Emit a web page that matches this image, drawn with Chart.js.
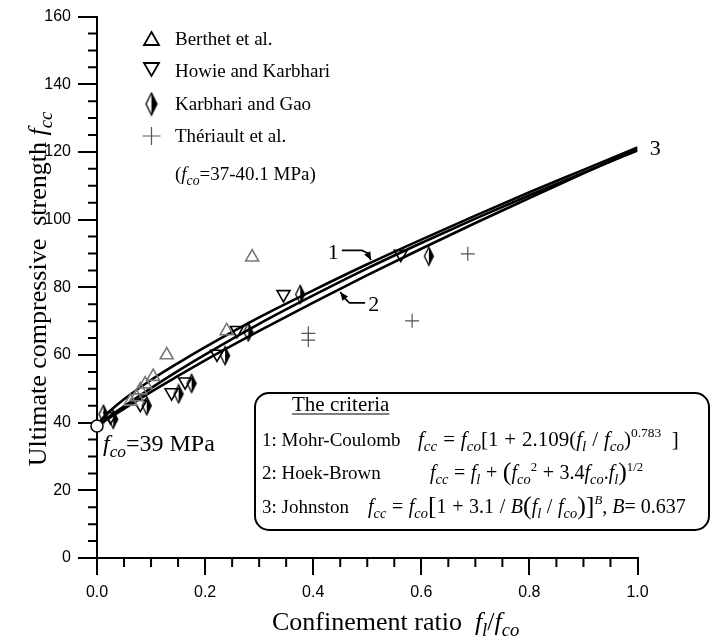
<!DOCTYPE html>
<html>
<head>
<meta charset="utf-8">
<script src="https://cdn.jsdelivr.net/npm/chart.js@4.4.1/dist/chart.umd.min.js"></script>
<style>
  html, body { margin: 0; padding: 0; background: #fff; }
</style>
</head>
<body>
<canvas id="grafico" width="711" height="640"></canvas>
<script>
/* Confined concrete strength vs confinement ratio: tests + 3 criteria */

// criteria curves
const curvaX   = [0, 0.01, 0.025, 0.05, 0.1, 0.15, 0.2, 0.3, 0.4, 0.5, 0.6, 0.7, 0.8, 0.9, 1.0];
const mohrY    = [39, 41.2, 43.6, 46.9, 52.6, 57.6, 62.3, 71.1, 79.1, 86.8, 94.1, 101.2, 108.1, 114.7, 121.3];
const hoekY    = [39, 40.1, 41.6, 44.1, 49.1, 53.8, 58.4, 67.1, 75.5, 83.6, 91.4, 99.0, 106.4, 113.7, 120.8];
const johnY    = [39, 40.2, 42.0, 44.8, 50.2, 55.3, 60.1, 69.2, 77.6, 85.6, 93.1, 100.3, 107.2, 113.9, 120.4];

// test data
const berthetX   = [0.287, 0.129, 0.240, 0.104, 0.089, 0.080, 0.073, 0.062];
const berthetY   = [88.9, 60.0, 67.1, 53.6, 51.4, 49.6, 47.6, 46.3];
const howieX     = [0.025, 0.080, 0.138, 0.163, 0.222, 0.259, 0.345, 0.562];
const howieY     = [41.8, 45.5, 48.9, 52.1, 60.3, 67.3, 77.9, 89.8];
const karbhariX  = [0.012, 0.030, 0.092, 0.151, 0.175, 0.237, 0.280, 0.376, 0.614];
const karbhariY  = [42.5, 41.0, 45.0, 48.5, 51.6, 59.8, 66.8, 77.9, 89.2];
const theriaultX = [0.391, 0.391, 0.583, 0.686];
const theriaultY = [66.4, 64.4, 70.1, 89.9];
const origemX = [0];
const origemY = [39];

// axes
const xMin = 0, xMax = 1, xPasso = 0.2, xPassoMenor = 0.05;
const yMin = 0, yMax = 160, yPasso = 20, yPassoMenor = 5;

const SERIF = '"Liberation Serif", "Times New Roman", serif';
const pts = (xs, ys) => xs.map((x, i) => ({ x, y: ys[i] }));

// meio losango (metade direita preenchida)
function meioLosango(w, h) {
  const c = document.createElement('canvas');
  c.width = w + 3; c.height = h + 3;
  const g = c.getContext('2d');
  const cx = c.width / 2, cy = c.height / 2;
  g.beginPath(); g.moveTo(cx, 1.5); g.lineTo(w + 1.5, cy); g.lineTo(cx, h + 1.5); g.closePath();
  g.fillStyle = '#000'; g.fill();
  g.beginPath(); g.moveTo(cx, 1.5); g.lineTo(w + 1.5, cy); g.lineTo(cx, h + 1.5); g.lineTo(1.5, cy); g.closePath();
  g.lineWidth = 1.3; g.strokeStyle = '#000'; g.stroke();
  return c;
}
const losango = meioLosango(9, 18);
const losangoLeg = meioLosango(11, 22);

// texto com itálico / índices; 'op' = operador com espaço largo
function rich(ctx, x, y, partes, size, medir) {
  let w = 0;
  partes.forEach(([t, s]) => {
    let f = size, dy = 0, it = false, pad = 0;
    if (s === 'i') it = true;
    if (s === 'sub') { f = size * 0.72; dy = size * 0.24; it = true; }
    if (s === 'sup') { f = size * 0.64; dy = -size * 0.42; }
    if (s === 'isup') { f = size * 0.64; dy = -size * 0.45; it = true; }
    if (s === 'big') { f = size * 1.3; dy = size * 0.06; }
    if (s === 'op') pad = size * 0.28;
    ctx.font = (it ? 'italic ' : '') + f + 'px ' + SERIF;
    w += pad;
    if (!medir) ctx.fillText(t, x + w, y + dy);
    w += ctx.measureText(t).width + pad;
  });
  return w;
}

function seta(ctx, pts_, tip) {
  ctx.beginPath();
  ctx.moveTo(pts_[0][0], pts_[0][1]);
  for (let i = 1; i < pts_.length; i++) ctx.lineTo(pts_[i][0], pts_[i][1]);
  ctx.lineTo(tip[0], tip[1]);
  ctx.stroke();
  const [px, py] = pts_[pts_.length - 1];
  const ang = Math.atan2(tip[1] - py, tip[0] - px);
  ctx.beginPath();
  ctx.moveTo(tip[0], tip[1]);
  ctx.lineTo(tip[0] - 9 * Math.cos(ang - 0.4), tip[1] - 9 * Math.sin(ang - 0.4));
  ctx.lineTo(tip[0] - 9 * Math.cos(ang + 0.4), tip[1] - 9 * Math.sin(ang + 0.4));
  ctx.closePath(); ctx.fill();
}

const extras = {
  id: 'extras',
  afterDraw(chart) {
    const ctx = chart.ctx, a = chart.chartArea;
    const xs = chart.scales.x, ys = chart.scales.y;
    const X = v => xs.getPixelForValue(v), Y = v => ys.getPixelForValue(v);
    ctx.save();
    ctx.strokeStyle = '#000'; ctx.fillStyle = '#000'; ctx.lineWidth = 2;

    // ticks menores
    ctx.beginPath();
    for (let v = xMin; v <= xMax + 1e-9; v += xPassoMenor) {
      if (Math.abs(v / xPasso - Math.round(v / xPasso)) < 1e-6) continue;
      ctx.moveTo(X(v), a.bottom); ctx.lineTo(X(v), a.bottom + 9);
    }
    for (let v = yMin; v <= yMax; v += yPassoMenor) {
      if (v % yPasso === 0) continue;
      ctx.moveTo(a.left, Y(v)); ctx.lineTo(a.left - 9, Y(v));
    }
    ctx.stroke();

    // títulos dos eixos
    ctx.textBaseline = 'alphabetic';
    const tx = [['Confinement ratio  ', 'n'], ['f', 'i'], ['l', 'sub'], ['/', 'n'], ['f', 'i'], ['co', 'sub']];
    rich(ctx, 272, 630, tx, 26);
    const ty = [['Ultimate compressive  strength ', 'n'], ['f', 'i'], ['cc', 'sub']];
    const wy = rich(ctx, 0, 0, ty, 26, true);
    ctx.save(); ctx.translate(46, 289); ctx.rotate(-Math.PI / 2);
    rich(ctx, -wy / 2, 0, ty, 26);
    ctx.restore();

    // legenda
    ctx.lineWidth = 1.8;
    const lx = 151.5;
    ctx.beginPath(); ctx.moveTo(lx, 32); ctx.lineTo(lx + 7.5, 45); ctx.lineTo(lx - 7.5, 45); ctx.closePath(); ctx.stroke();
    ctx.beginPath(); ctx.moveTo(lx - 7.5, 63); ctx.lineTo(lx + 7.5, 63); ctx.lineTo(lx, 76); ctx.closePath(); ctx.stroke();
    ctx.drawImage(losangoLeg, lx - losangoLeg.width / 2, 104 - losangoLeg.height / 2);
    ctx.strokeStyle = '#555'; ctx.lineWidth = 1.2;
    ctx.beginPath(); ctx.moveTo(lx - 9, 136); ctx.lineTo(lx + 9, 136); ctx.moveTo(lx, 127); ctx.lineTo(lx, 145); ctx.stroke();
    ctx.strokeStyle = '#000';
    ctx.font = '19px ' + SERIF;
    ctx.fillText('Berthet et al.', 175, 45);
    ctx.fillText('Howie and Karbhari', 175, 77);
    ctx.fillText('Karbhari and Gao', 175, 110);
    ctx.fillText('Thériault et al.', 175, 142);
    rich(ctx, 175, 180, [['(', 'n'], ['f', 'i'], ['co', 'sub'], ['=37-40.1 MPa)', 'n']], 19);

    // f_co = 39 MPa
    rich(ctx, 103, 451, [['f', 'i'], ['co', 'sub'], ['=39 MPa', 'n']], 24);

    // rótulos 1, 2, 3 com setas
    ctx.font = '22px ' + SERIF; ctx.textAlign = 'center';
    ctx.fillText('1', X(0.437), Y(90.7) + 8);
    ctx.fillText('2', X(0.512), Y(75.4) + 8);
    ctx.fillText('3', X(1.033), Y(121.4) + 8);
    ctx.textAlign = 'left';
    ctx.lineWidth = 1.6;
    seta(ctx, [[X(0.453), Y(90.9)], [X(0.490), Y(90.9)], [X(0.500), Y(90.2)]], [X(0.507), Y(88.0)]);
    seta(ctx, [[X(0.496), Y(75.4)], [X(0.467), Y(75.4)], [X(0.460), Y(76.5)]], [X(0.450), Y(78.6)]);

    // caixa dos critérios
    const bx = 255, by = 393, bw = 454, bh = 137, r = 14;
    ctx.lineWidth = 2;
    ctx.beginPath();
    ctx.moveTo(bx + r, by); ctx.lineTo(bx + bw - r, by); ctx.arcTo(bx + bw, by, bx + bw, by + r, r);
    ctx.lineTo(bx + bw, by + bh - r); ctx.arcTo(bx + bw, by + bh, bx + bw - r, by + bh, r);
    ctx.lineTo(bx + r, by + bh); ctx.arcTo(bx, by + bh, bx, by + bh - r, r);
    ctx.lineTo(bx, by + r); ctx.arcTo(bx, by, bx + r, by, r);
    ctx.closePath(); ctx.stroke();

    ctx.font = '21px ' + SERIF;
    ctx.fillText('The criteria', 292, 411);
    const wc = ctx.measureText('The criteria').width;
    ctx.lineWidth = 1.2;
    ctx.beginPath(); ctx.moveTo(292, 414); ctx.lineTo(292 + wc, 414); ctx.stroke();

    const fs = 20;
    ctx.font = '19px ' + SERIF;
    ctx.fillText('1: Mohr-Coulomb', 262, 446);
    rich(ctx, 418, 446, [['f', 'i'], ['cc', 'sub'], ['=', 'op'], ['f', 'i'], ['co', 'sub'],
      ['[1', 'n'], ['+', 'op'], ['2.109(', 'n'], ['f', 'i'], ['l', 'sub'], ['/', 'op'], ['f', 'i'], ['co', 'sub'],
      [')', 'n'], ['0.783', 'sup'], ['  ]', 'n']], 21);
    ctx.font = '19px ' + SERIF;
    ctx.fillText('2: Hoek-Brown', 262, 479);
    rich(ctx, 430, 479, [['f', 'i'], ['cc', 'sub'], ['=', 'op'], ['f', 'i'], ['l', 'sub'], ['+', 'op'],
      ['(', 'big'], ['f', 'i'], ['co', 'sub'], ['2', 'sup'], ['+', 'op'], ['3.4', 'n'], ['f', 'i'], ['co', 'sub'],
      ['.', 'n'], ['f', 'i'], ['l', 'sub'], [')', 'big'], ['1/2', 'sup']], fs);
    ctx.font = '19px ' + SERIF;
    ctx.fillText('3: Johnston', 262, 513);
    rich(ctx, 368, 513, [['f', 'i'], ['cc', 'sub'], ['=', 'op'], ['f', 'i'], ['co', 'sub'],
      ['[', 'big'], ['1', 'n'], ['+', 'op'], ['3.1', 'n'], ['/', 'op'], ['B', 'i'], ['(', 'big'], ['f', 'i'], ['l', 'sub'],
      ['/', 'op'], ['f', 'i'], ['co', 'sub'], [')', 'big'], [']', 'big'], ['B', 'isup'], [', ', 'n'], ['B', 'i'],
      ['= 0.637', 'n']], fs);

    ctx.restore();
  }
};

const fonteTicks = { family: 'Liberation Sans', size: 16 };

new Chart(document.getElementById('grafico'), {
  type: 'scatter',
  data: {
    datasets: [
      { data: pts(origemX, origemY), pointRadius: 6, pointBackgroundColor: '#fff',
        pointBorderColor: '#000', pointBorderWidth: 1.5, clip: false },
      { data: pts(berthetX, berthetY), pointStyle: 'triangle', pointRadius: 7.5,
        pointBackgroundColor: 'rgba(0,0,0,0)', pointBorderColor: '#777', pointBorderWidth: 1.6 },
      { data: pts(howieX, howieY), pointStyle: 'triangle', pointRotation: 180, pointRadius: 7.5,
        pointBackgroundColor: 'rgba(0,0,0,0)', pointBorderColor: '#000', pointBorderWidth: 1.6 },
      { data: pts(karbhariX, karbhariY), pointStyle: losango },
      { data: pts(theriaultX, theriaultY), pointStyle: 'cross', pointRadius: 7,
        pointBorderColor: '#555', pointBorderWidth: 1.2 },
      { data: pts(curvaX, mohrY), showLine: true, pointRadius: 0, borderColor: '#000',
        borderWidth: 2.6, cubicInterpolationMode: 'monotone' },
      { data: pts(curvaX, johnY), showLine: true, pointRadius: 0, borderColor: '#000',
        borderWidth: 2.6, cubicInterpolationMode: 'monotone' },
      { data: pts(curvaX, hoekY), showLine: true, pointRadius: 0, borderColor: '#000',
        borderWidth: 2.6, cubicInterpolationMode: 'monotone' }
    ]
  },
  options: {
    responsive: false, animation: false, events: [],
    layout: { padding: { left: 0, right: 73.5, top: 15, bottom: 0 } },
    plugins: { legend: { display: false }, tooltip: { enabled: false } },
    scales: {
      x: {
        type: 'linear', min: xMin, max: xMax,
        ticks: { stepSize: xPasso, color: '#000', font: fonteTicks, padding: 8,
                 callback: v => v.toFixed(1), maxRotation: 0 },
        grid: { drawOnChartArea: false, tickLength: 17, color: '#000', lineWidth: 2 },
        border: { display: true, color: '#000', width: 2 },
        afterFit: s => { s.height = 82; }
      },
      y: {
        min: yMin, max: yMax,
        ticks: { stepSize: yPasso, color: '#000', font: fonteTicks, padding: 7 },
        grid: { drawOnChartArea: false, tickLength: 19, color: '#000', lineWidth: 2 },
        border: { display: true, color: '#000', width: 2 },
        afterFit: s => { s.width = 97; }
      }
    }
  },
  plugins: [extras]
});
</script>
</body>
</html>
